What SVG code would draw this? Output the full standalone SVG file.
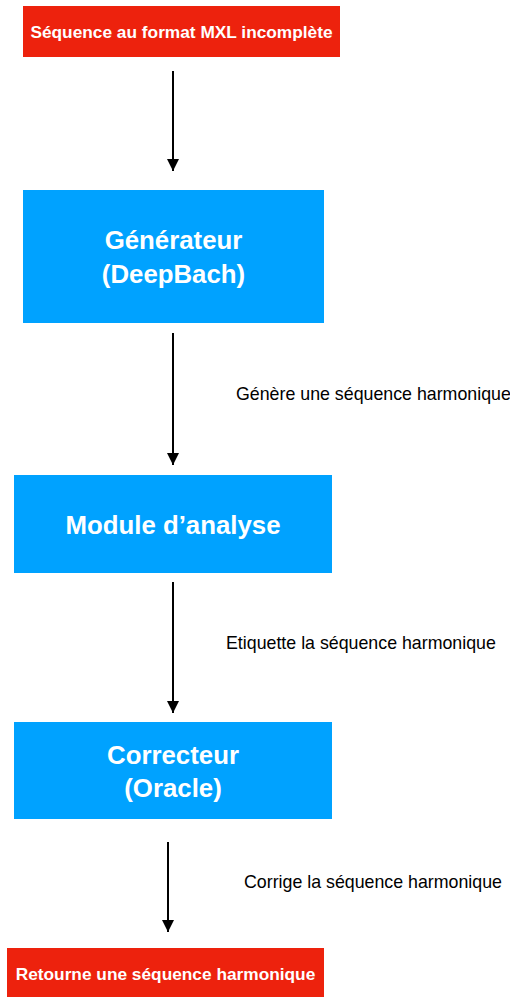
<svg xmlns="http://www.w3.org/2000/svg" width="510" height="997" viewBox="0 0 510 997">
  <style>
    .io { fill: #ED220D; }
    .step { fill: #00A2FF; }
    .io-text { font-family: "Liberation Sans", Arial, sans-serif; font-weight: bold; font-size: 17.3px; fill: #FFFFFF; text-anchor: middle; }
    .step-text { font-family: "Liberation Sans", Arial, sans-serif; font-weight: bold; font-size: 25.8px; fill: #FFFFFF; text-anchor: middle; }
    .label { font-family: "Liberation Sans", Arial, sans-serif; font-size: 17.8px; fill: #000000; }
    .edge { stroke: #000000; stroke-width: 2; fill: none; marker-end: url(#arrow); }
  </style>
  <defs>
    <marker id="arrow" markerUnits="userSpaceOnUse" markerWidth="12" markerHeight="12" refX="12" refY="6" orient="auto">
      <path d="M0,0 L12,6 L0,12 Z" fill="#000000"/>
    </marker>
  </defs>
  <rect width="510" height="997" fill="#FFFFFF"/>

  <g id="input">
    <rect class="io" x="23" y="6" width="317" height="51"/>
    <text class="io-text" x="181.5" y="38">Séquence au format MXL incomplète</text>
  </g>

  <g id="generator">
    <rect class="step" x="23" y="190" width="301" height="133"/>
    <text class="step-text" x="173.5" y="249">Générateur</text>
    <text class="step-text" x="173.5" y="283">(DeepBach)</text>
  </g>

  <g id="analysis">
    <rect class="step" x="14" y="475" width="318" height="98"/>
    <text class="step-text" x="173" y="534">Module d’analyse</text>
  </g>

  <g id="corrector">
    <rect class="step" x="14" y="722" width="318" height="97"/>
    <text class="step-text" x="173" y="764">Correcteur</text>
    <text class="step-text" x="173" y="797">(Oracle)</text>
  </g>

  <g id="output">
    <rect class="io" x="7" y="948" width="317" height="49"/>
    <text class="io-text" x="165.5" y="980">Retourne une séquence harmonique</text>
  </g>

  <g id="connectors">
    <line class="edge" x1="173" y1="71" x2="173" y2="171"/>
    <line class="edge" x1="173" y1="333" x2="173" y2="465"/>
    <text class="label" x="236" y="400">Génère une séquence harmonique</text>
    <line class="edge" x1="173" y1="582" x2="173" y2="713"/>
    <text class="label" x="226" y="649">Etiquette la séquence harmonique</text>
    <line class="edge" x1="168" y1="842" x2="168" y2="932"/>
    <text class="label" x="244" y="888">Corrige la séquence harmonique</text>
  </g>
</svg>
